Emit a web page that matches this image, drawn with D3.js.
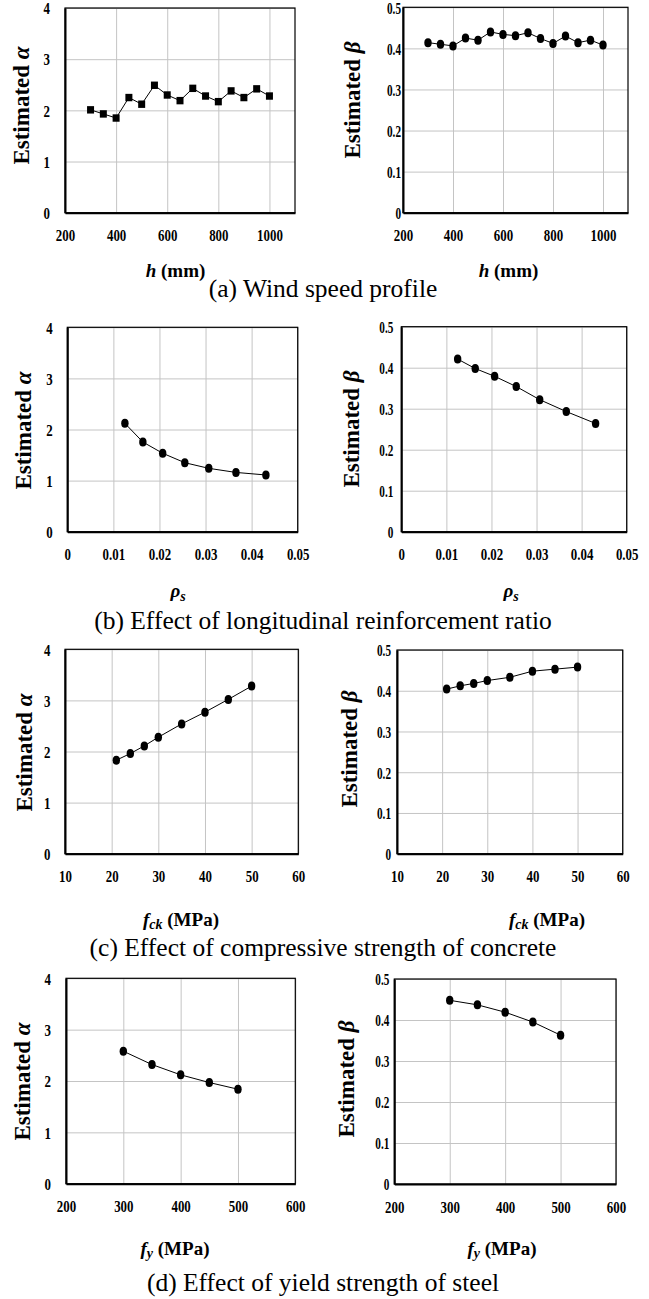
<!DOCTYPE html>
<html><head><meta charset="utf-8">
<script src="https://cdn.jsdelivr.net/npm/d3@7"></script>
<style>
body{margin:0;background:#fff}
svg{display:block}
</style>
</head><body>
<svg id="c" width="649" height="1299"></svg>
<script>
// ---------- data ----------
const hVals   = [300,350,400,450,500,550,600,650,700,750,800,850,900,950,1000];
const alphaH  = [2.01,1.93,1.85,2.25,2.12,2.49,2.30,2.19,2.43,2.28,2.17,2.38,2.25,2.42,2.28];
const betaH   = [0.414,0.410,0.406,0.425,0.420,0.440,0.434,0.431,0.438,0.424,0.412,0.430,0.414,0.420,0.408];

const rhoVals = [0.0125,0.0164,0.0207,0.0255,0.0307,0.0366,0.0431];
const alphaRho= [2.12,1.755,1.535,1.35,1.24,1.16,1.11];
const betaRho = [0.421,0.398,0.379,0.354,0.322,0.293,0.264];

const fckVals = [21,24,27,30,35,40,45,50];
const alphaFck= [1.83,1.96,2.11,2.28,2.54,2.77,3.02,3.28];
const betaFck = [0.404,0.412,0.418,0.425,0.433,0.448,0.453,0.458];

const fyVals  = [300,350,400,450,500];
const alphaFy = [2.58,2.32,2.12,1.97,1.84];
const betaFy  = [0.448,0.437,0.419,0.395,0.363];

const xTicksH   = [200,400,600,800,1000];
const xTicksRho = [0,0.01,0.02,0.03,0.04,0.05];
const xTicksFck = [10,20,30,40,50,60];
const xTicksFy  = [200,300,400,500,600];
const yTicksAlpha = [0,1,2,3,4];
const yTicksBeta  = [0,0.1,0.2,0.3,0.4,0.5];

const captions = [
  "(a) Wind speed profile",
  "(b) Effect of longitudinal reinforcement ratio",
  "(c) Effect of compressive strength of concrete",
  "(d) Effect of yield strength of steel"
];

// ---------- drawing ----------
const FONT = '"Liberation Serif","Times New Roman",Tinos,serif';
const svg = d3.select("#c");
const fmtNum = d => String(d);

function panel(c){
  const g = svg.append("g");
  const x = d3.scaleLinear().domain(c.xDomain).range([c.x0, c.x1]);
  const y = d3.scaleLinear().domain(c.yDomain).range([c.y1, c.y0]);
  const W = c.x1 - c.x0, H = c.y1 - c.y0;

  // grid
  g.append("g").attr("transform",`translate(0,${c.y1})`)
    .call(d3.axisBottom(x).tickValues(c.xTicks).tickSize(-H).tickFormat(""))
    .call(s=>{s.select(".domain").remove(); s.selectAll("line").attr("stroke","#c4c4c4").attr("stroke-width",1);});
  g.append("g").attr("transform",`translate(${c.x0},0)`)
    .call(d3.axisLeft(y).tickValues(c.yTicks).tickSize(-W).tickFormat(""))
    .call(s=>{s.select(".domain").remove(); s.selectAll("line").attr("stroke","#c4c4c4").attr("stroke-width",1);});

  // frame
  g.append("rect").attr("x",c.x0).attr("y",c.y0).attr("width",W).attr("height",H)
    .attr("fill","none").attr("stroke","#000").attr("stroke-width",1.2);

  // axes
  g.append("g").attr("transform",`translate(0,${c.y1})`)
    .call(d3.axisBottom(x).tickValues(c.xTicks).tickSize(0).tickFormat(fmtNum))
    .call(s=>{
      s.select(".domain").attr("stroke","#000").attr("stroke-width",2);
      s.selectAll("text").style("font-family",FONT).attr("font-size",17).attr("font-weight","bold").attr("fill","#000")
        .attr("dy",null).attr("y",null)
        .attr("transform",`translate(0,28.5) scale(0.76,1)`);
    });
  g.append("g").attr("transform",`translate(${c.x0},0)`)
    .call(d3.axisLeft(y).tickValues(c.yTicks).tickSize(0).tickFormat(fmtNum))
    .call(s=>{
      s.select(".domain").attr("stroke","#000").attr("stroke-width",2);
      s.selectAll("text").style("font-family",FONT).attr("font-size",17).attr("font-weight","bold").attr("fill","#000")
        .attr("dy",null).attr("x",null).attr("text-anchor","end")
        .attr("transform",`translate(${-c.yGap},5.8) scale(${c.ySX},1)`);
    });

  // line + markers
  const pts = c.xs.map((v,i)=>[v,c.ys[i]]);
  g.append("path").datum(pts)
    .attr("d", d3.line().x(d=>x(d[0])).y(d=>y(d[1])))
    .attr("fill","none").attr("stroke","#000").attr("stroke-width",1);
  if(c.marker==="square"){
    g.selectAll("rect.m").data(pts).join("rect").attr("class","m")
      .attr("x",d=>x(d[0])-3.5).attr("y",d=>y(d[1])-3.7)
      .attr("width",7).attr("height",7.4).attr("fill","#000");
  } else {
    g.selectAll("ellipse").data(pts).join("ellipse")
      .attr("cx",d=>x(d[0])).attr("cy",d=>y(d[1]))
      .attr("rx",3.7).attr("ry",4.5).attr("fill","#000");
  }

  // y title
  const yt = g.append("text")
    .attr("transform",`translate(${c.ytX},${c.ytC}) rotate(-90)`)
    .attr("text-anchor","middle")
    .style("font-family",FONT).attr("font-size",23).attr("font-weight","bold").attr("fill","#000");
  yt.append("tspan").text("Estimated ");
  yt.append("tspan").attr("font-style","italic").text(c.ySym);

  // x title
  const xt = g.append("text").attr("x",c.xtC).attr("y",c.xtB)
    .attr("text-anchor","middle").style("font-family",FONT)
    .attr("font-size",19).attr("font-weight","bold").attr("fill","#000");
  c.xTitle(xt);
}

function tH(t){ t.append("tspan").attr("font-style","italic").text("h"); t.append("tspan").text(" (mm)"); }
function tRho(t){ t.append("tspan").attr("font-style","italic").text("\u03c1");
  t.append("tspan").attr("font-style","italic").attr("font-size",14).attr("dy",3.5).text("s"); }
function tFck(t){ t.append("tspan").attr("font-style","italic").text("f");
  t.append("tspan").attr("font-style","italic").attr("font-size",14).attr("dy",3).text("ck");
  t.append("tspan").attr("dy",-3).text(" (MPa)"); }
function tFy(t){ t.append("tspan").attr("font-style","italic").text("f");
  t.append("tspan").attr("font-style","italic").attr("font-size",14).attr("dy",3).text("y");
  t.append("tspan").attr("dy",-3).text(" (MPa)"); }

const alphaCfg = {yDomain:[0,4], yTicks:yTicksAlpha, ySym:"\u03b1", ySX:0.76};
const betaCfg  = {yDomain:[0,0.5], yTicks:yTicksBeta, ySym:"\u03b2", ySX:0.66};

// (a)
panel(Object.assign({}, alphaCfg, {x0:65,x1:295,y0:8,y1:212.7, xDomain:[200,1100], xTicks:xTicksH,
  xs:hVals, ys:alphaH, marker:"square", yGap:15, ytX:29, ytC:105.5, xtC:175.5, xtB:277, xTitle:tH}));
panel(Object.assign({}, betaCfg, {x0:403,x1:628,y0:7.3,y1:212.7, xDomain:[200,1100], xTicks:xTicksH,
  xs:hVals, ys:betaH, marker:"circle", yGap:2, ytX:360, ytC:100, xtC:508.5, xtB:277, xTitle:tH}));
// (b)
panel(Object.assign({}, alphaCfg, {x0:67.3,x1:297.7,y0:327.3,y1:531.7, xDomain:[0,0.05], xTicks:xTicksRho,
  xs:rhoVals, ys:alphaRho, marker:"circle", yGap:14.5, ytX:31, ytC:430.5, xtC:178, xtB:597, xTitle:tRho}));
panel(Object.assign({}, betaCfg, {x0:401.3,x1:626.7,y0:326.7,y1:531.7, xDomain:[0,0.05], xTicks:xTicksRho,
  xs:rhoVals, ys:betaRho, marker:"circle", yGap:8, ytX:359, ytC:429, xtC:511, xtB:597, xTitle:tRho}));
// (c)
panel(Object.assign({}, alphaCfg, {x0:65,x1:298.3,y0:649.3,y1:853.7, xDomain:[10,60], xTicks:xTicksFck,
  xs:fckVals, ys:alphaFck, marker:"circle", yGap:14.5, ytX:32, ytC:752.5, xtC:181, xtB:926, xTitle:tFck}));
panel(Object.assign({}, betaCfg, {x0:397,x1:622.7,y0:650,y1:853.7, xDomain:[10,60], xTicks:xTicksFck,
  xs:fckVals, ys:betaFck, marker:"circle", yGap:6, ytX:357, ytC:749, xtC:547, xtB:926, xTitle:tFck}));
// (d)
panel(Object.assign({}, alphaCfg, {x0:66,x1:295.3,y0:978.3,y1:1183.7, xDomain:[200,600], xTicks:xTicksFy,
  xs:fyVals, ys:alphaFy, marker:"circle", yGap:15, ytX:30, ytC:1081.5, xtC:175, xtB:1255, xTitle:tFy}));
panel(Object.assign({}, betaCfg, {x0:394.3,x1:616,y0:979,y1:1184, xDomain:[200,600], xTicks:xTicksFy,
  xs:fyVals, ys:betaFy, marker:"circle", yGap:5, ytX:354, ytC:1079, xtC:502, xtB:1255, xTitle:tFy}));

// captions
const capY = [297, 629, 956, 1291];
svg.selectAll("text.cap").data(captions).join("text").attr("class","cap")
  .attr("x",323).attr("y",(d,i)=>capY[i]).attr("text-anchor","middle")
  .style("font-family",FONT).attr("font-size",25.5).attr("fill","#000")
  .text(d=>d);
</script>
</body></html>
